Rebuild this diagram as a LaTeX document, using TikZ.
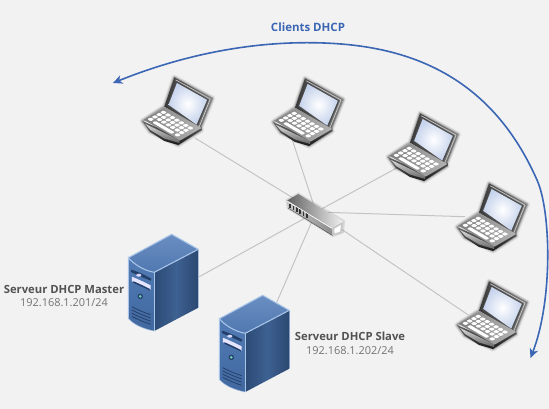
\documentclass[tikz,border=0pt]{standalone}
\usepackage{fontspec}
\setmainfont{Open Sans}
\usetikzlibrary{arrows.meta}
\definecolor{bgc}{HTML}{F2F2F2}
\definecolor{linkc}{HTML}{C4C4C4}
\definecolor{arrowc}{HTML}{3B66B4}
\definecolor{srvedge}{HTML}{A9C6E8}
\definecolor{srvsidea}{HTML}{2C4A75}
\definecolor{srvmid}{HTML}{3D6192}
\definecolor{srvsideb}{HTML}{2B4870}
\definecolor{srvtopa}{HTML}{6A8EC2}
\definecolor{srvtopb}{HTML}{5078B0}
\definecolor{srvfronta}{HTML}{527BB5}
\definecolor{srvfrontb}{HTML}{41689F}
\definecolor{srvdark}{HTML}{24406A}
\definecolor{srvled}{HTML}{6FC8B8}
\definecolor{scrouter}{HTML}{C6D3EC}
\tikzset{
  x=0.75pt,y=-0.75pt,
  linkline/.style={draw=linkc,line width=0.75pt},
  flowarrow/.style={draw=arrowc,line width=1.2pt,{Stealth[length=7pt,width=6.5pt,inset=2pt]}-{Stealth[length=7pt,width=6.5pt,inset=2pt]}},
  boldlabel/.style={font=\bfseries\fontsize{8.45}{10}\selectfont,text=black!68,inner sep=0pt},
  iplabel/.style={font=\fontsize{8.2}{10}\selectfont,text=black!55,inner sep=0pt},
  titlelabel/.style={font=\bfseries\fontsize{8.6}{10}\selectfont,text=arrowc,inner sep=0pt},
  laptop/.pic={
    % soft shadow
    \foreach \w/\o in {4/0.06,2.6/0.10,1.2/0.18}
      \draw[black,opacity=\o,line width=\w pt,line join=round]
        (0,44)--(22,29.7)--(32,0.3)--(70.3,21.3)--(58.3,51.3)--(59.3,53)--(36,68)--(7.7,54.7)--cycle;
    % lid
    \shade[left color=black!78,right color=black!50,line join=round]
      (32,0.3)--(70.3,21.3)--(58.3,51.3)--(22,29.7)--cycle;
    \draw[black!20,line width=0.5pt] (33.3,2.8)--(68,22)--(56.8,50);
    % screen
    \fill[black!70] (33.8,4.6)--(66.4,22.6)--(55.2,49)--(25,28.8)--cycle;
    \shade[inner color=white,outer color=scrouter]
      (34.6,6)--(64.8,22.9)--(54.2,47.6)--(26.2,27.8)--cycle;
    % base front
    \shade[top color=black!60,bottom color=black!90,line join=round]
      (0,44)--(37,60)--(59.3,50)--(59.3,53)--(36,68)--(22,64)--(7.7,54.7)--cycle;
    \shade[top color=black!15,bottom color=black!60]
      (3,47)--(37,63)--(37,66)--(22,61.5)--(8,53)--cycle;
    % deck
    \shade[left color=black!50,right color=black!30,line join=round]
      (1.4,42.8)--(22.7,30.2)--(59.3,51)--(37.7,63.6)--cycle;
    % keys
    \foreach \r in {1,2,3}
      \foreach \c in {0,...,6}
        \fill[white,rounded corners=0.6pt]
          ({5.1+\c*4.45+\r*4.25},{42.2+\c*2.6-\r*2.3}) -- ++(3.4,-1.8) -- ++(3.3,2.0) -- ++(-3.4,1.8) -- cycle;
    \foreach \c in {0,6}
      \fill[white,rounded corners=0.6pt]
        ({5.1+\c*4.45},{42.2+\c*2.6}) -- ++(3.4,-1.8) -- ++(3.3,2.0) -- ++(-3.4,1.8) -- cycle;
    \fill[white,rounded corners=0.6pt] (10,45.6) -- ++(3.2,-1.6) -- ++(19.2,11.3) -- ++(-3.2,1.6) -- cycle;
  },
  serverbox/.pic={
    % local origin: left top corner of the front face
    \shade[left color=srvsidea,right color=srvsideb,middle color=srvmid]
      (26,14.6)--(70,-8.4)--(70,50)--(26,73.3)--cycle;
    \shade[top color=srvtopa,bottom color=srvtopb]
      (0,0)--(43.4,-23.4)--(70,-8.4)--(26,14.6) .. controls (16,13) and (6,7) .. cycle;
    \shade[top color=srvfronta,bottom color=srvfrontb]
      (0,0) .. controls (6,7) and (16,13) .. (26,14.6)--(26,73.3) .. controls (16,71.5) and (5,67) .. (0,60.6)--cycle;
    \draw[srvedge,line width=0.8pt,line join=round]
      (0,60.6)--(0,0)--(43.4,-23.4)--(70,-8.4)--(26,14.6) .. controls (16,13) and (6,7) .. (0,0);
    \draw[srvedge,line width=0.8pt] (26,14.6)--(26,73.3);
    \draw[srvedge,line width=0.5pt,opacity=0.7] (70,-8.4)--(70,50);
    \draw[srvedge,line width=0.5pt,opacity=0.7] (0,60.6) .. controls (5,67) and (16,71.5) .. (26,73.3);
    % drive slot with lens
    \fill[srvdark] (2.5,12) .. controls (8,13) and (18,18) .. (23,21) -- (22.5,23) .. controls (15,20) and (8,17) .. (3,14.5)--cycle;
    \fill[white!85!blue] (10.5,17.5) ellipse[x radius=2.6,y radius=1.5];
    % second drive
    \fill[white!90!blue] (3.5,19) .. controls (9,21) and (17,25) .. (22.3,27.6)--(22.3,32) .. controls (16,29) and (9,25.5) .. (3.5,23.5)--cycle;
    \fill[srvdark] (5,23.5) .. controls (10,25.5) and (16,28.5) .. (21.5,31.3)--(21.5,32.7) .. controls (16,30) and (10,27.5) .. (5,25)--cycle;
    % LED
    \fill[srvdark] (12,38.7) circle[radius=2.7];
    \fill[srvled] (12,38.7) circle[radius=1.5];
    % vents
    \foreach \d in {0,3.2,6.4,9.6}
      \draw[srvdark,line width=0.6pt] (3.5,{49+\d}) .. controls (9,{52+\d}) and (16,{55+\d}) .. (22.3,{57+\d});
  }
}
\begin{document}
\begin{tikzpicture}
\fill[bgc] (0,0) rectangle (549,409);
\useasboundingbox (0,0) rectangle (549,409);

% anchors
\coordinate (sw) at (316,212);
\coordinate (c1) at (195,138);
\coordinate (c2) at (291.7,138);
\coordinate (c3) at (396.7,168);
\coordinate (c4) at (465,216.7);
\coordinate (c5) at (468.3,315);
\coordinate (s1) at (199.3,276.7);
\coordinate (s2) at (276.7,302.3);

% links
\foreach \e in {c1,c2,c3,c4,c5,s1,s2}
  \draw[linkline] (sw) -- (\e);

% laptops
\pic at (142.3,77) {laptop};
\pic at (273,78) {laptop};
\pic at (388,113) {laptop};
\pic at (457,183) {laptop};
\pic at (457,281) {laptop};

% switch
\fill[black,opacity=0.10] (285.5,199.5)--(298.5,192.5)--(345,220.5)--(344,233)--(333,237)--(287,209)--cycle;
\shade[left color=black!62,right color=black!5]
  (286.7,200.7)--(298.3,194)--(343.3,221.7)--(331.7,228.3)--cycle;
\shade[left color=black!22,right color=black!45]
  (286.7,200.7)--(331.7,228.3)--(332.5,235.5)--(288,208)--cycle;
\fill[white!78!black] (331.7,228.3)--(343.3,221.7)--(342,233)--(332.5,235.5)--cycle;
\fill[white] (334.3,228.8)--(341,225)--(340,231.6)--(334.6,233.5)--cycle;
\foreach \p in {0,1,2,3,4,5}
  \fill[black!80] ({289.3+\p*3.35},{203.7+\p*1.9}) rectangle ++(1.5,4.6);
\draw[white,line width=0.5pt] (286.7,200.7)--(331.7,228.3);
\draw[black!65,line width=0.4pt] (288,208)--(332.5,235.5);

% servers
\pic at (128.3,257.7) {serverbox};
\pic at (219.3,318.7) {serverbox};

% curved arrow
\coordinate (arrowa) at (113,83);
\coordinate (arrowb) at (530.5,358);
\draw[flowarrow] (arrowa) .. controls (175,58) and (240,42.7) .. (307,42.7)
  .. controls (388,42.7) and (485,62) .. (537,180)
  .. controls (551,211) and (553,300) .. (arrowb);

% labels
\node[titlelabel] (tclients) at (308,27.7) {Clients DHCP};
\node[boldlabel] (tmaster) at (64,289) {Serveur DHCP Master};
\node[iplabel] (ipmaster) at (64,303) {192.168.1.201/24};
\node[boldlabel] (tslave) at (350,336) {Serveur DHCP Slave};
\node[iplabel] (ipslave) at (350,351) {192.168.1.202/24};
\end{tikzpicture}
\end{document}
